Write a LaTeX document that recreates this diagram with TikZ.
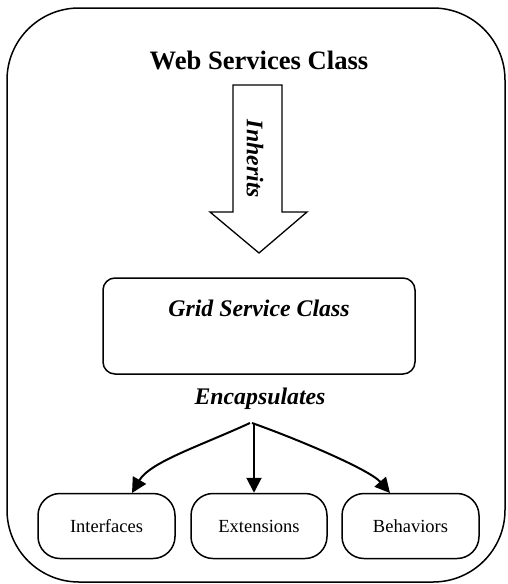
\documentclass[tikz,border=0pt]{standalone}
\usepackage{fontspec}
\setmainfont{Liberation Serif}
\usetikzlibrary{arrows.meta}
\begin{document}
\begin{tikzpicture}[x=1pt,y=-1pt,
  boxline/.style={draw=black,line width=1.5pt},
  leaf/.style={boxline,rounded corners=22pt,minimum width=137pt,minimum height=65pt,inner sep=0pt,font=\fontsize{18.5}{20}\selectfont},
  bi/.style={font=\fontsize{23.8}{26}\selectfont\bfseries\itshape,inner sep=0pt},
  conn/.style={line width=2pt,-{Triangle[length=15pt,width=15pt]}}]
\useasboundingbox (0,0) rectangle (508,584);
\node[boxline,rounded corners=72pt,minimum width=498pt,minimum height=574pt,inner sep=0pt] (outer) at (256,295) {};
\node[font=\fontsize{26.6}{28}\selectfont\bfseries,inner sep=0pt] (title) at (259,60) {Web Services Class};
\draw[boxline,line width=1.3pt] (233,85) -- (282,85) -- (282,212) -- (307,212) -- (259,253) -- (210,212) -- (233,212) -- cycle;
\node[bi,rotate=-90] (inh) at (255,159) {Inherits};
\node[boxline,rounded corners=12pt,minimum width=312pt,minimum height=96pt,inner sep=0pt] (grid) at (259,326) {};
\node[bi] (gridtxt) at (259,308) {Grid Service Class};
\node[bi] (enc) at (260,399) {Encapsulates};
\node[leaf] (int) at (106.5,526) {Interfaces};
\node[leaf,minimum width=136pt] (ext) at (259,526) {Extensions};
\node[leaf] (beh) at (410.5,526) {Behaviors};
\coordinate (apex) at (250,423);
\coordinate (apexm) at (254,423);
\coordinate (apexr) at (252,423);
\draw[conn] (apexm) -- (apexm |- ext.north);
\draw[conn] (apex) .. controls (200,446) and (150,462) .. (132,493);
\draw[conn] (apexr) .. controls (300,440) and (370,470) .. (390,493);
\end{tikzpicture}
\end{document}
